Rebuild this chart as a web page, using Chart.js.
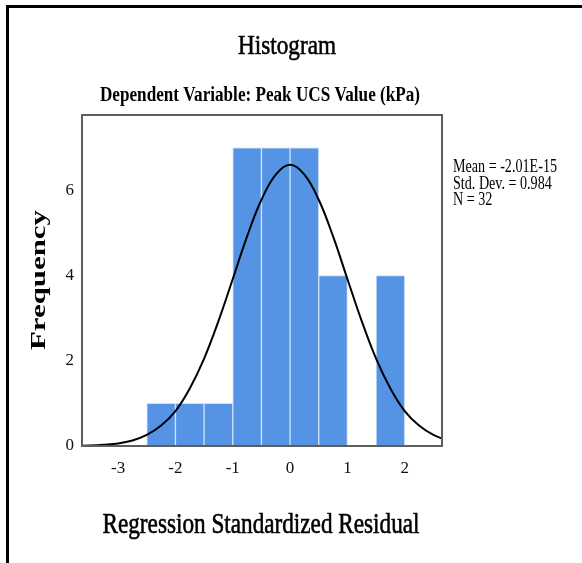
<!DOCTYPE html>
<html>
<head>
<meta charset="utf-8">
<script src="https://cdn.jsdelivr.net/npm/chart.js@4/dist/chart.umd.min.js"></script>
<style>
  html, body { margin: 0; padding: 0; background: #ffffff; }
  #wrap { width: 582px; height: 563px; position: relative; }
  canvas { display: block; }
</style>
</head>
<body>
<div id="wrap"><canvas id="c" width="582" height="563"></canvas></div>
<script>
// ---- data ----
const binCenters = [-2.25, -1.75, -1.25, -0.75, -0.25, 0.25, 0.75, 1.25, 1.75];
const binCounts  = [1, 1, 1, 7, 7, 7, 4, 0, 4];
const curveX = [-3.75, -3.5, -3.25, -3.0, -2.75, -2.5, -2.25, -2.0, -1.75, -1.5, -1.25, -1.0, -0.75, -0.5, -0.25, 0.0, 0.25, 0.5, 0.75, 1.0, 1.25, 1.5, 1.75, 2.0, 2.25, 2.5, 2.75];
const curveY = [0.005, 0.012, 0.03, 0.06, 0.13, 0.26, 0.48, 0.82, 1.35, 2.05, 2.93, 3.92, 4.92, 5.78, 6.37, 6.6, 6.37, 5.78, 4.92, 3.92, 2.93, 2.05, 1.35, 0.82, 0.48, 0.26, 0.13];
const xTickValues = [-3, -2, -1, 0, 1, 2];
const yTickValues = [0, 2, 4, 6];
const titleText = "Histogram";
const subtitleText = "Dependent Variable: Peak UCS Value (kPa)";
const xTitleText = "Regression Standardized Residual";
const yTitleText = "Frequency";
const statsLines = ["Mean = -2.01E-15", "Std. Dev. = 0.984", "N = 32"];

const SERIF = "'Liberation Serif', 'Times New Roman', serif";

function drawFit(ctx, text, font, cx, cy, targetW, rotate, strokeW) {
  ctx.save();
  ctx.font = font;
  const w = ctx.measureText(text).width;
  const s = targetW / w;
  ctx.translate(cx, cy);
  if (rotate) ctx.rotate(-Math.PI / 2);
  ctx.scale(s, 1);
  ctx.textAlign = 'center';
  ctx.textBaseline = 'alphabetic';
  ctx.fillStyle = '#000';
  ctx.fillText(text, 0, 0);
  if (strokeW) {
    ctx.strokeStyle = '#000';
    ctx.lineWidth = strokeW;
    ctx.strokeText(text, 0, 0);
  }
  ctx.restore();
}

const decor = {
  id: 'decor',
  beforeDraw(chart) {
    const ctx = chart.ctx;
    ctx.save();
    ctx.fillStyle = '#fff';
    ctx.fillRect(0, 0, chart.width, chart.height);
    // outer frame (left and top)
    ctx.fillStyle = '#000';
    ctx.fillRect(6, 5, 576, 3);
    ctx.fillRect(6, 5, 3, 558);
    ctx.restore();
  },
  afterDraw(chart) {
    const ctx = chart.ctx;
    const a = chart.chartArea;
    ctx.save();
    ctx.strokeStyle = '#5e5e5e';
    ctx.lineWidth = 2;
    ctx.strokeRect(a.left, a.top, a.right - a.left, a.bottom - a.top);
    ctx.restore();

    drawFit(ctx, titleText, `28px ${SERIF}`, 287, 54, 98, false, 0.6);
    drawFit(ctx, subtitleText, `bold 20px ${SERIF}`, 260, 101, 320, false, 0);
    drawFit(ctx, xTitleText, `29px ${SERIF}`, 261, 533, 317, false, 0.6);
    drawFit(ctx, yTitleText, `bold 22px ${SERIF}`, 45, 280, 140, true, 0);

    ctx.save();
    ctx.font = `18px ${SERIF}`;
    ctx.fillStyle = '#000';
    ctx.textAlign = 'left';
    ctx.textBaseline = 'alphabetic';
    const sx = 104 / ctx.measureText(statsLines[0]).width;
    statsLines.forEach((t, i) => {
      ctx.save();
      ctx.translate(453, 172 + i * 16.5);
      ctx.scale(sx, 1);
      ctx.fillText(t, 0, 0);
      ctx.restore();
    });
    ctx.restore();
  }
};

const barData = binCenters.map((x, i) => ({ x: x, y: binCounts[i] }));
const curveData = curveX.map((x, i) => ({ x: x, y: curveY[i] }));

new Chart(document.getElementById('c'), {
  data: {
    datasets: [
      {
        type: 'line',
        data: curveData,
        borderColor: '#000',
        borderWidth: 2,
        pointRadius: 0,
        tension: 0.4,
        fill: false,
        order: 0
      },
      {
        type: 'bar',
        data: barData,
        backgroundColor: '#5594e4',
        borderColor: '#cfe0f6',
        borderWidth: 1,
        borderSkipped: 'bottom',
        categoryPercentage: 1.0,
        barPercentage: 1.0,
        order: 1
      }
    ]
  },
  options: {
    responsive: false,
    animation: false,
    events: [],
    layout: { padding: { left: 42, right: 140, top: 115, bottom: 77 } },
    plugins: {
      legend: { display: false },
      title: { display: false },
      tooltip: { enabled: false }
    },
    scales: {
      x: {
        type: 'linear',
        min: -3.63,
        max: 2.65,
        offset: false,
        grid: { display: false, drawTicks: false },
        border: { display: false },
        afterBuildTicks(scale) { scale.ticks = xTickValues.map(v => ({ value: v })); },
        afterFit(scale) { scale.height = 40; },
        ticks: {
          padding: 12,
          color: '#111',
          font: { family: SERIF, size: 17 },
          callback: v => String(v),
          maxRotation: 0,
          autoSkip: false
        }
      },
      y: {
        type: 'linear',
        min: 0,
        max: 7.77,
        grid: { display: false, drawTicks: false },
        border: { display: false },
        afterBuildTicks(scale) { scale.ticks = yTickValues.map(v => ({ value: v })); },
        afterFit(scale) { scale.width = 40; },
        ticks: {
          padding: 8,
          color: '#111',
          font: { family: SERIF, size: 17 },
          callback: v => String(v)
        }
      }
    }
  },
  plugins: [decor]
});
</script>
</body>
</html>
